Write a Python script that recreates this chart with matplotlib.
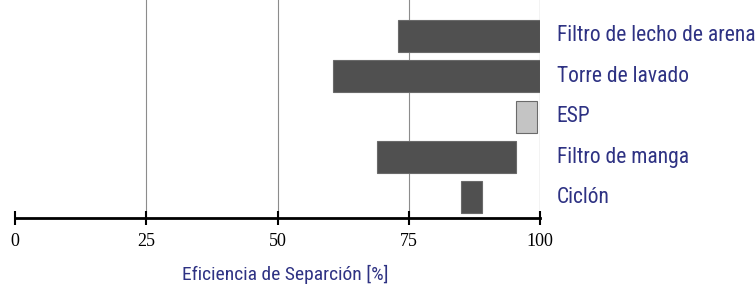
import matplotlib.pyplot as plt

# separation efficiency ranges per device (%), bottom to top
equipos = ["Ciclón", "Filtro de manga", "ESP", "Torre de lavado", "Filtro de lecho de arena"]
eff_min = [85, 69, 95.5, 60.5, 73]
eff_max = [89, 95.5, 99.5, 100, 100]
colores = ["#505050", "#505050", "#c4c4c4", "#505050", "#505050"]
ticks_x = [0, 25, 50, 75, 100]

narrow = "Roboto Condensed"
azul = "#2e3283"

fig = plt.figure(figsize=(7.56, 2.95), dpi=100)
ax = fig.add_axes([15 / 756, 1 - 218 / 295, 525 / 756, 218 / 295])

y = list(range(len(equipos)))
widths = [b - a for a, b in zip(eff_min, eff_max)]
ax.barh(y, widths, left=eff_min, height=0.79, color=colores,
        edgecolor="#6a6a6a", linewidth=0.8, zorder=3)

for yi, name in zip(y, equipos):
    ax.text(103.2, yi, name, color=azul, fontsize=15.5, family=narrow,
            va="center", ha="left")

ax.set_xlim(0, 100)
ax.set_ylim(-0.51, 4.89)
ax.set_xticks(ticks_x)
ax.set_xticklabels([str(t) for t in ticks_x], family="Liberation Serif", fontsize=13)
ax.set_yticks([])
for t in ticks_x[1:]:
    ax.axvline(t, color="#8c8c8c" if t < 100 else "#333333", linewidth=0.8, zorder=1)

for s in ["top", "left", "right"]:
    ax.spines[s].set_visible(False)
ax.spines["bottom"].set_linewidth(2)
ax.tick_params(axis="x", direction="inout", length=10, width=1.5, pad=6)

ax.set_xlabel("Eficiencia de Separción [%]", color=azul, fontsize=14,
              family=narrow)
ax.xaxis.set_label_coords(0.515, -0.215)

fig.savefig("out.png", dpi=100)
